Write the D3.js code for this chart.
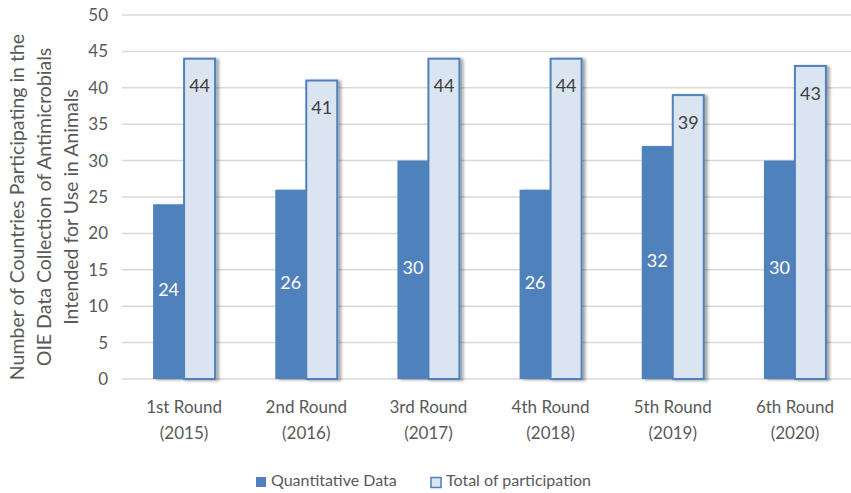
<!DOCTYPE html>
<html>
<head>
<meta charset="utf-8">
<script src="https://cdn.jsdelivr.net/npm/d3@7"></script>
<style>
  body { margin: 0; background: #fff; }
  text { font-family: Lato, "Open Sans", sans-serif; fill: #595959; }
</style>
</head>
<body>
<svg id="chart" width="851" height="493"></svg>
<script>
var rounds = ["1st Round", "2nd Round", "3rd Round", "4th Round", "5th Round", "6th Round"];
var years = ["(2015)", "(2016)", "(2017)", "(2018)", "(2019)", "(2020)"];
var quantitative = [24, 26, 30, 26, 32, 30];
var total = [44, 41, 44, 44, 39, 43];
var yTicks = [0, 5, 10, 15, 20, 25, 30, 35, 40, 45, 50];
var titleLines = [
  "Number of Countries Participating in the",
  "OIE Data Collection of Antimicrobials",
  "Intended for Use in Animals"
];

var svg = d3.select("#chart");
var dark = "#4f81bd", light = "#dbe5f1";

var x = d3.scaleBand().domain(rounds).range([123, 856]).padding(0);
var y = d3.scaleLinear().domain([0, 50]).range([379, 15]);
var barW = 31;

// shadow for bars
var defs = svg.append("defs");
var f = defs.append("filter").attr("id", "shadow")
  .attr("x", "-20%").attr("y", "-5%").attr("width", "160%").attr("height", "110%");
f.append("feDropShadow").attr("dx", 3).attr("dy", 1).attr("stdDeviation", 1.6)
  .attr("flood-color", "#000").attr("flood-opacity", 0.35);

// grid
svg.append("g").selectAll("line")
  .data(yTicks)
  .join("line")
  .attr("x1", 122).attr("x2", 851)
  .attr("y1", function(d) { return y(d); })
  .attr("y2", function(d) { return y(d); })
  .attr("stroke", "#d9d9d9").attr("stroke-width", 1.5);

// y tick labels
var yAxis = svg.append("g").attr("transform", "translate(108,0)")
  .call(d3.axisLeft(y).tickValues(yTicks).tickSize(0).tickPadding(0));
yAxis.select(".domain").remove();
yAxis.selectAll("text").style("font-size", "17px").attr("fill", "#595959")
  .style("font-family", "Lato, sans-serif");

// bars
var groups = svg.append("g").selectAll("g")
  .data(rounds)
  .join("g")
  .attr("transform", function(d) { return "translate(" + (x(d) + x.bandwidth() / 2) + ",0)"; });

groups.append("rect")
  .attr("x", -barW)
  .attr("y", function(d, i) { return y(quantitative[i]); })
  .attr("width", barW)
  .attr("height", function(d, i) { return y(0) - y(quantitative[i]); })
  .attr("fill", dark)
  .attr("filter", "url(#shadow)");

groups.append("rect")
  .attr("x", 0)
  .attr("y", function(d, i) { return y(total[i]); })
  .attr("width", barW)
  .attr("height", function(d, i) { return y(0) - y(total[i]); })
  .attr("fill", light)
  .attr("stroke", dark).attr("stroke-width", 2)
  .attr("filter", "url(#shadow)");

// value labels
groups.append("text")
  .attr("x", -barW / 2)
  .attr("y", function(d, i) { return (y(quantitative[i]) + y(0)) / 2; })
  .attr("text-anchor", "middle").attr("dominant-baseline", "middle")
  .style("font-size", "18px").style("fill", "#fff")
  .text(function(d, i) { return quantitative[i]; });

groups.append("text")
  .attr("x", barW / 2)
  .attr("y", function(d, i) { return y(total[i]) + 29; })
  .attr("text-anchor", "middle").attr("dominant-baseline", "middle")
  .style("font-size", "18px").style("fill", "#404040")
  .text(function(d, i) { return total[i]; });

// x labels
groups.append("text")
  .attr("y", 413).attr("text-anchor", "middle")
  .style("font-size", "17px")
  .text(function(d) { return d; });
groups.append("text")
  .attr("y", 439).attr("text-anchor", "middle")
  .style("font-size", "17px")
  .text(function(d, i) { return years[i]; });

// y title
var title = svg.append("text")
  .attr("transform", "translate(0,207) rotate(-90)")
  .attr("text-anchor", "middle")
  .style("font-size", "19.5px");
title.selectAll("tspan")
  .data(titleLines)
  .join("tspan")
  .attr("x", 0)
  .attr("y", function(d, i) { return 24 + i * 27; })
  .text(function(d) { return d; });

// legend
var legend = svg.append("g").attr("transform", "translate(0,482)");
legend.append("rect").attr("x", 256).attr("y", -5).attr("width", 10).attr("height", 10)
  .attr("fill", dark);
legend.append("text").attr("x", 271).attr("y", 0).attr("dominant-baseline", "middle")
  .style("font-size", "16px").text("Quantitative Data");
legend.append("rect").attr("x", 431).attr("y", -4.5).attr("width", 10).attr("height", 10)
  .attr("fill", light).attr("stroke", dark).attr("stroke-width", 1.5);
legend.append("text").attr("x", 446).attr("y", 0).attr("dominant-baseline", "middle")
  .style("font-size", "16px").text("Total of participation");
</script>
</body>
</html>
